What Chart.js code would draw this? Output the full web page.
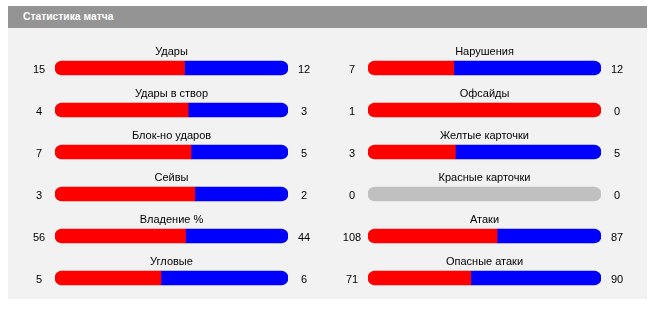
<!DOCTYPE html>
<html>
<head>
<meta charset="utf-8">
<script src="https://cdn.jsdelivr.net/npm/chart.js@4"></script>
<style>
  body { margin: 0; background: #fff; width: 648px; height: 312px; position: relative; overflow: hidden; }
  #head { position: absolute; left: 8px; top: 6px; width: 639px; height: 22px; background: #949494;
          color: #fff; font: bold 10.3px "Liberation Sans", sans-serif; line-height: 22px; text-indent: 15px; }
  #panel { position: absolute; left: 8px; top: 28px; width: 639px; height: 271px; background: #f2f2f2; }
  canvas { position: absolute; top: 28px; }
  #left { left: 0; }
  #right { left: 313px; }
</style>
</head>
<body>
<div id="head">Статистика матча</div>
<div id="panel"></div>
<canvas id="left" width="320" height="271"></canvas>
<canvas id="right" width="320" height="271"></canvas>
<script>
var leftCats = ["Удары", "Удары в створ", "Блок-но ударов", "Сейвы", "Владение %", "Угловые"];
var leftHome = [15, 4, 7, 3, 56, 5];
var leftAway = [12, 3, 5, 2, 44, 6];

var rightCats = ["Нарушения", "Офсайды", "Желтые карточки", "Красные карточки", "Атаки", "Опасные атаки"];
var rightHome = [7, 1, 3, 0, 108, 71];
var rightAway = [12, 0, 5, 0, 87, 90];

var FONT = '11px "Liberation Sans", sans-serif';

function makeChart(id, cats, home, away) {
    // shares of the bar; null when nothing so no sliver gets drawn
    var homeShare = [], awayShare = [], empty = [];
    for (var i = 0; i < cats.length; i++) {
        var t = home[i] + away[i];
        homeShare.push(home[i] ? home[i] / t : null);
        awayShare.push(away[i] ? away[i] / t : null);
        empty.push(t ? null : 1);
    }

    var labelsPlugin = {
        id: 'rowLabels',
        afterDatasetsDraw: function (chart) {
            var c = chart.ctx, area = chart.chartArea, y = chart.scales.y;
            var mid = (area.left + area.right) / 2;
            c.save();
            c.font = FONT;
            c.fillStyle = '#000';
            c.textAlign = 'center';
            c.textBaseline = 'alphabetic';
            for (var i = 0; i < cats.length; i++) {
                var cy = y.getPixelForValue(i);
                c.fillText(cats[i], mid, cy - 13);
                c.fillText(String(home[i]), area.left - 16, cy + 5);
                c.fillText(String(away[i]), area.right + 16, cy + 5);
            }
            c.restore();
        }
    };

    return new Chart(document.getElementById(id), {
        type: 'bar',
        data: {
            labels: cats,
            datasets: [
                {
                    data: homeShare,
                    backgroundColor: '#ff0000',
                    borderSkipped: false,
                    borderRadius: function (ctx) {
                        var r = awayShare[ctx.dataIndex] ? 0 : 7;
                        return { topLeft: 7, bottomLeft: 7, topRight: r, bottomRight: r };
                    }
                },
                {
                    data: awayShare,
                    backgroundColor: '#0000ff',
                    borderSkipped: false,
                    borderRadius: function (ctx) {
                        var r = homeShare[ctx.dataIndex] ? 0 : 7;
                        return { topLeft: r, bottomLeft: r, topRight: 7, bottomRight: 7 };
                    }
                },
                {
                    data: empty,
                    backgroundColor: '#c0c0c0',
                    borderSkipped: false,
                    borderRadius: { topLeft: 7, bottomLeft: 7, topRight: 7, bottomRight: 7 }
                }
            ]
        },
        options: {
            indexAxis: 'y',
            responsive: false,
            animation: false,
            devicePixelRatio: 1,
            barThickness: 14,
            layout: { padding: { left: 55, right: 32, top: 19, bottom: 0 } },
            scales: {
                x: { stacked: true, min: 0, max: 1, display: false },
                y: { stacked: true, display: false }
            },
            plugins: {
                legend: { display: false },
                tooltip: { enabled: false }
            }
        },
        plugins: [labelsPlugin]
    });
}

makeChart('left', leftCats, leftHome, leftAway);
makeChart('right', rightCats, rightHome, rightAway);
</script>
</body>
</html>
